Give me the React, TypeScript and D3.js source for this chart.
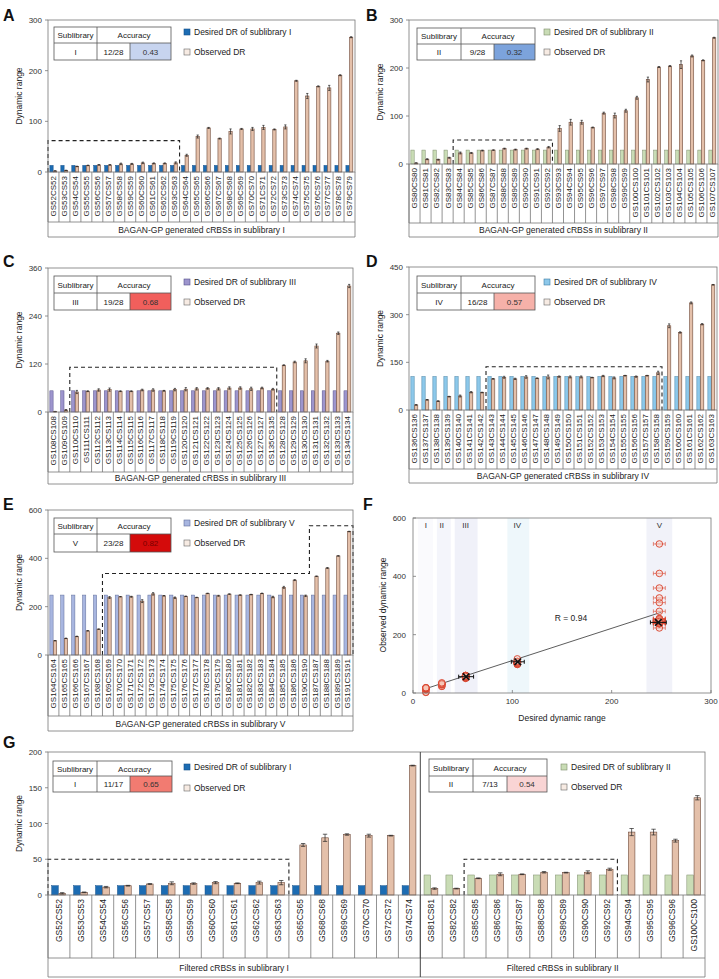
import React from 'react';
import * as d3 from 'd3';

const FONT = '"Liberation Sans", Arial, sans-serif';

// ---------- Data ----------
const labelsA = ['GS52CS52','GS53CS53','GS54CS54','GS55CS55','GS56CS56','GS57CS57','GS58CS58','GS59CS59','GS60CS60','GS61CS61','GS62CS62','GS63CS63','GS64CS64','GS65CS65','GS66CS66','GS67CS67','GS68CS68','GS69CS69','GS70CS70','GS71CS71','GS72CS72','GS73CS73','GS74CS74','GS75CS75','GS76CS76','GS77CS77','GS78CS78','GS79CS79'];
const obsA = [2,3,11,13,14,14,16,16,18,17,17,18,33,70,87,66,80,85,85,88,84,89,180,150,169,166,191,266];
const errA = [0.5,0.5,0.5,0.5,0.5,0.5,1.5,1,1.5,1,1,2,2,3,1,1,5,1,3,4,1,4,1,5,1,5,1,1];
const desiredA = 13;

const labelsB = ['GS80CS80','GS81CS81','GS82CS82','GS83CS83','GS84CS84','GS85CS85','GS86CS86','GS87CS87','GS88CS88','GS89CS89','GS90CS90','GS91CS91','GS92CS92','GS93CS93','GS94CS94','GS95CS95','GS96CS96','GS97CS97','GS98CS98','GS99CS99','GS100CS100','GS101CS101','GS102CS102','GS103CS103','GS104CS104','GS105CS105','GS106CS106','GS107CS107'];
const obsB = [2,10,9,13,23,23,28,29,32,30,32,31,35,74,87,87,76,106,101,111,138,176,202,204,207,225,216,263];
const errB = [0.5,1,1,1,2,1,1,0.5,1,1,1,1,1.5,6,6,4,1,2,5,3,3,5,1,1,8,2,1,1];
const desiredB = 29;

const labelsC = ['GS108CS108','GS109CS109','GS110CS110','GS111CS111','GS112CS112','GS113CS113','GS114CS114','GS115CS115','GS116CS116','GS117CS117','GS118CS118','GS119CS119','GS120CS120','GS121CS121','GS122CS122','GS123CS123','GS124CS124','GS125CS125','GS126CS126','GS127CS127','GS135CS135','GS128CS128','GS129CS129','GS130CS130','GS131CS131','GS132CS132','GS133CS133','GS134CS134'];
const obsC = [1,5,50,52,55,56,52,52,55,55,53,56,57,58,59,58,60,60,58,60,57,117,125,128,165,127,197,315];
const errC = [0.5,1,4,1,3,4,1,1,2,3,1,3,4,3,2,3,3,3,4,2,2,1,2,5,5,2,3,4];
const desiredC = 53;

const labelsD = ['GS136CS136','GS137CS137','GS138CS138','GS139CS139','GS140CS140','GS141CS141','GS142CS142','GS143CS143','GS144CS144','GS145CS145','GS146CS146','GS147CS147','GS148CS148','GS149CS149','GS150CS150','GS151CS151','GS152CS152','GS153CS153','GS154CS154','GS155CS155','GS156CS156','GS157CS157','GS158CS158','GS159CS159','GS160CS160','GS161CS161','GS162CS162','GS163CS163'];
const obsD = [16,32,28,42,44,56,55,98,103,98,104,100,104,105,104,104,102,107,101,108,105,108,117,265,244,337,270,394];
const errD = [1,1,1,1,3,2,1,1,3,2,4,1,6,2,3,3,1,2,3,1,2,1,5,6,2,3,2,1];
const desiredD = 105;

const labelsE = ['GS164CS164','GS165CS165','GS166CS166','GS167CS167','GS168CS168','GS169CS169','GS170CS170','GS171CS171','GS172CS172','GS173CS173','GS174CS174','GS175CS175','GS176CS176','GS177CS177','GS178CS178','GS179CS179','GS180CS180','GS181CS181','GS182CS182','GS183CS183','GS184CS184','GS185CS185','GS186CS186','GS190CS190','GS187CS187','GS188CS188','GS189CS189','GS191CS191'];
const obsE = [59,69,77,100,107,238,241,241,223,253,245,237,243,238,255,245,252,248,250,255,240,280,310,245,326,360,410,511];
const errE = [1,1,1,1,1,4,1,2,6,5,1,3,1,1,1,2,1,1,1,1,3,4,2,3,1,2,1,1];
const desiredE = 248;

const labelsG1 = ['GS52CS52','GS53CS53','GS54CS54','GS56CS56','GS57CS57','GS58CS58','GS59CS59','GS60CS60','GS61CS61','GS62CS62','GS63CS63','GS65CS65','GS68CS68','GS69CS69','GS70CS70','GS72CS72','GS74CS74'];
const obsG1 = [2.3,3.7,11,13,15.4,16.4,16,17.3,16.4,17.3,17.3,70,80,84.6,83,83,181];
const errG1 = [1,0.5,1,0.5,0.5,2,1,1.5,0.5,2,3,2,5,1,2,0.5,0.5];
const desiredG1 = 13;
const labelsG2 = ['GS81CS81','GS82CS82','GS85CS85','GS86CS86','GS87CS87','GS88CS88','GS89CS89','GS90CS90','GS92CS92','GS94CS94','GS95CS95','GS96CS96','GS100CS100'];
const obsG2 = [9,9,23.4,29,29,31.8,31.3,31.8,36,88,88,76,136];
const errG2 = [1,0.5,0.5,2,0.5,1,0.5,2,1.5,5,4,2,3];
const desiredG2 = 28;

// accurate ranges (dashed boxes)
const boxesA = [{ from: 0, to: 11, top: 62 }];
const boxesB = [{ from: 4, to: 12, top: 50 }];
const boxesC = [{ from: 2, to: 20, top: 112 }];
const boxesD = [{ from: 7, to: 22, top: 136 }];
const boxesE = [{ from: 5, to: 23, top: 337 }, { from: 24, to: 27, top: 535 }];
const boxesG = [{ from: 0, to: 10, top: 50 }, { from: 19, to: 25, top: 50 }];

const ticksA = [0, 100, 200, 300];
const ticksC = [0, 120, 240, 360];
const ticksD = [0, 150, 300, 450];
const ticksE = [0, 200, 400, 600];
const ticksG = [0, 50, 100, 150, 200];

// Panel F
const fDesired = [13, 29, 53, 105, 248];
const fNames = ['I', 'II', 'III', 'IV', 'V'];
const fBandLo = [5, 24, 42, 95, 235];
const fBandHi = [20, 38, 65, 117, 261];
const fBandCol = ['#fafafd', '#f4f5fb', '#f0f1f9', '#eef7fb', '#f1f2f9'];
const fBlackX = [53.5, 105.5, 247];
const fBlackY = [56, 107, 242];
const fBlackErr = [7.5, 6.5, 8];
const fFitLine = [[13, 15], [250, 277]];
const fTicksX = [0, 100, 200, 300];
const fTicksY = [0, 200, 400, 600];

const OBS_FILL = '#e4c0aa';
const OBS_STROKE = '#6e4a3a';

type Box = { from: number; to: number; top: number };
type Group = {
  n: number; desired: number; desFill: string; desStroke: string; rowTitle: string; desLegend: string;
  tx: number[]; ty: number[]; sub: string; frac: string; acc: string; accFill: string; accText: string;
  lx: number; ly1: number; ly2: number;
};
type PanelProps = {
  letter: string; lX: number; lY: number;
  x0: number; x1: number; yTop: number; yBot: number; cellBot: number; rowBot: number;
  yMax: number; ticks: number[]; labels: string[]; obs: number[]; err: number[];
  boxes: Box[]; groups: Group[]; titleX: number; labelFont: number;
};

function BarPanel(p: PanelProps) {
  const idx = p.labels.map((_, i) => i);
  const x = d3.scaleBand<number>().domain(idx).range([p.x0, p.x1]).padding(0);
  const bw = x.bandwidth();
  const y = d3.scaleLinear().domain([0, p.yMax]).range([p.yBot, p.yTop]);
  const groupOf: Group[] = [];
  p.groups.forEach(g => { for (let k = 0; k < g.n; k++) groupOf.push(g); });
  const starts: number[] = [];
  let acc = 0;
  p.groups.forEach(g => { starts.push(acc); acc += g.n; });

  // dashed outlines, merging adjacent boxes
  const paths: string[] = [];
  let i = 0;
  while (i < p.boxes.length) {
    let j = i;
    while (j + 1 < p.boxes.length && p.boxes[j + 1].from === p.boxes[j].to + 1) j++;
    let d = `M${x(p.boxes[i].from)},${p.yBot}`;
    for (let k = i; k <= j; k++) {
      const b = p.boxes[k];
      d += ` V${y(b.top)} H${(x(b.to) as number) + bw}`;
    }
    d += ` V${p.yBot}`;
    paths.push(d);
    i = j + 1;
  }

  const midY = (p.yTop + p.yBot) / 2;
  return (
    <g fontFamily={FONT}>
      <text x={p.lX} y={p.lY} fontSize={16} fontWeight="bold" fill="#111">{p.letter}</text>
      {idx.map(k => {
        const g = groupOf[k];
        const bx = x(k) as number;
        const w = bw * 0.3;
        return (
          <g key={k}>
            <rect x={bx + bw * 0.17} y={y(g.desired)} width={w} height={p.yBot - y(g.desired)} fill={g.desFill} stroke={g.desStroke} strokeWidth={0.5} />
            <rect x={bx + bw * 0.5} y={y(p.obs[k])} width={w} height={p.yBot - y(p.obs[k])} fill={OBS_FILL} stroke={OBS_STROKE} strokeWidth={0.6} />
            <g stroke="#222" strokeWidth={0.7}>
              <line x1={bx + bw * 0.65} x2={bx + bw * 0.65} y1={y(p.obs[k] - p.err[k])} y2={y(p.obs[k] + p.err[k])} />
              <line x1={bx + bw * 0.55} x2={bx + bw * 0.75} y1={y(p.obs[k] + p.err[k])} y2={y(p.obs[k] + p.err[k])} />
              <line x1={bx + bw * 0.55} x2={bx + bw * 0.75} y1={y(p.obs[k] - p.err[k])} y2={y(p.obs[k] - p.err[k])} />
            </g>
          </g>
        );
      })}
      {paths.map((d, k) => <path key={k} d={d} fill="none" stroke="#222" strokeWidth={1.1} strokeDasharray="4,3" />)}
      <rect x={p.x0} y={p.yTop} width={p.x1 - p.x0} height={p.yBot - p.yTop} fill="none" stroke="#777" strokeWidth={0.8} />
      {p.ticks.map(t => (
        <g key={t}>
          <line x1={p.x0 - 3} x2={p.x0} y1={y(t)} y2={y(t)} stroke="#777" strokeWidth={0.8} />
          <text x={p.x0 - 6} y={y(t) + 3} fontSize={8} textAnchor="end" fill="#333">{t}</text>
        </g>
      ))}
      <text transform={`translate(${p.titleX},${midY}) rotate(-90)`} fontSize={8.5} textAnchor="middle" fill="#222">Dynamic range</text>
      <g stroke="#777" strokeWidth={0.8}>
        {idx.map(k => <line key={k} x1={x(k)} x2={x(k)} y1={p.yBot} y2={p.cellBot} />)}
        <line x1={p.x1} x2={p.x1} y1={p.yBot} y2={p.rowBot} />
        <line x1={p.x0} x2={p.x0} y1={p.yBot} y2={p.rowBot} />
        <line x1={p.x0} x2={p.x1} y1={p.cellBot} y2={p.cellBot} />
        <line x1={p.x0} x2={p.x1} y1={p.rowBot} y2={p.rowBot} />
        {starts.slice(1).map(s => <line key={s} x1={x(s)} x2={x(s)} y1={p.yTop} y2={p.rowBot} strokeWidth={1} stroke="#444" />)}
      </g>
      {idx.map(k => (
        <text key={k} transform={`translate(${(x(k) as number) + bw / 2 + p.labelFont * 0.36},${p.yBot + 4}) rotate(-90)`} fontSize={p.labelFont} textAnchor="end" fill="#222">{p.labels[k]}</text>
      ))}
      {p.groups.map((g, gi) => {
        const sx = x(starts[gi]) as number;
        const ex = gi + 1 < p.groups.length ? (x(starts[gi + 1]) as number) : p.x1;
        const [a, b, c, e] = g.tx;
        const [r0, r1, r2] = g.ty;
        return (
          <g key={gi}>
            <text x={(sx + ex) / 2} y={(p.cellBot + p.rowBot) / 2 + 3} fontSize={8.5} textAnchor="middle" fill="#222">{g.rowTitle}</text>
            <rect x={a} y={r0} width={e - a} height={r2 - r0} fill="#fff" />
            <rect x={c} y={r1} width={e - c} height={r2 - r1} fill={g.accFill} />
            <g stroke="#555" strokeWidth={0.8} fill="none">
              <rect x={a} y={r0} width={e - a} height={r2 - r0} />
              <line x1={a} x2={e} y1={r1} y2={r1} />
              <line x1={b} x2={b} y1={r0} y2={r2} />
              <line x1={c} x2={c} y1={r1} y2={r2} />
            </g>
            <g fontSize={8} textAnchor="middle" fill="#222">
              <text x={(a + b) / 2} y={(r0 + r1) / 2 + 3}>Sublibrary</text>
              <text x={(b + e) / 2} y={(r0 + r1) / 2 + 3}>Accuracy</text>
              <text x={(a + b) / 2} y={(r1 + r2) / 2 + 3}>{g.sub}</text>
              <text x={(b + c) / 2} y={(r1 + r2) / 2 + 3}>{g.frac}</text>
              <text x={(c + e) / 2} y={(r1 + r2) / 2 + 3} fill={g.accText}>{g.acc}</text>
            </g>
            <rect x={g.lx - 3} y={g.ly1 - 3} width={6} height={6} fill={g.desFill} stroke={g.desStroke} strokeWidth={0.6} />
            <text x={g.lx + 7} y={g.ly1 + 3} fontSize={8.5} fill="#222">{g.desLegend}</text>
            <rect x={g.lx - 3} y={g.ly2 - 3} width={6} height={6} fill="#f7ebe3" stroke="#666" strokeWidth={0.6} />
            <text x={g.lx + 7} y={g.ly2 + 3} fontSize={8.5} fill="#222">Observed DR</text>
          </g>
        );
      })}
    </g>
  );
}

function ScatterF() {
  const x = d3.scaleLinear().domain([0, 300]).range([413, 711]);
  const y = d3.scaleLinear().domain([0, 600]).range([693, 518]);
  const clusters = [
    obsA.slice(boxesA[0].from, boxesA[0].to + 1),
    obsB.slice(boxesB[0].from, boxesB[0].to + 1),
    obsC.slice(boxesC[0].from, boxesC[0].to + 1),
    obsD.slice(boxesD[0].from, boxesD[0].to + 1),
    obsE.slice(boxesE[0].from, boxesE[1].to + 1),
  ];
  const line = d3.line<number[]>().x(d => x(d[0])).y(d => y(d[1]));
  const times = d3.symbol().type(d3.symbolTimes).size(30)();
  return (
    <g fontFamily={FONT}>
      <text x={363} y={510} fontSize={16} fontWeight="bold" fill="#111">F</text>
      {fBandLo.map((lo, k) => (
        <rect key={k} x={x(lo)} y={y(600)} width={x(fBandHi[k]) - x(lo)} height={y(0) - y(600)} fill={fBandCol[k]} />
      ))}
      {fNames.map((n, k) => <text key={n} x={x(fDesired[k])} y={y(567)} fontSize={8} textAnchor="middle" fill="#333">{n}</text>)}
      <path d={line(fFitLine) as string} stroke="#333" strokeWidth={0.8} fill="none" />
      {clusters.map((c, k) => c.map((v, m) => (
        <g key={`${k}-${m}`}>
          {k === 4 && (
            <g stroke="#d9442f" strokeWidth={0.6}>
              <line x1={x(fDesired[k] - 6)} x2={x(fDesired[k] + 6)} y1={y(v)} y2={y(v)} />
              <line x1={x(fDesired[k] - 6)} x2={x(fDesired[k] - 6)} y1={y(v) - 2} y2={y(v) + 2} />
              <line x1={x(fDesired[k] + 6)} x2={x(fDesired[k] + 6)} y1={y(v) - 2} y2={y(v) + 2} />
            </g>
          )}
          <circle cx={x(fDesired[k])} cy={y(v)} r={3.3} fill="rgba(248,200,185,0.4)" stroke="#d9442f" strokeWidth={0.9} />
        </g>
      )))}
      {fBlackX.map((bx, k) => (
        <g key={k} stroke="#111" strokeWidth={1}>
          <line x1={x(bx - fBlackErr[k])} x2={x(bx + fBlackErr[k])} y1={y(fBlackY[k])} y2={y(fBlackY[k])} />
          <line x1={x(bx - fBlackErr[k])} x2={x(bx - fBlackErr[k])} y1={y(fBlackY[k]) - 2} y2={y(fBlackY[k]) + 2} />
          <line x1={x(bx + fBlackErr[k])} x2={x(bx + fBlackErr[k])} y1={y(fBlackY[k]) - 2} y2={y(fBlackY[k]) + 2} />
          <path d={times} transform={`translate(${x(bx)},${y(fBlackY[k])})`} fill="#111" strokeWidth={1.6} />
        </g>
      ))}
      <text x={x(159)} y={y(247)} fontSize={8.5} textAnchor="middle" fill="#222">R = 0.94</text>
      <rect x={413} y={518} width={298} height={175} fill="none" stroke="#777" strokeWidth={0.8} />
      {fTicksY.map(t => (
        <g key={t}>
          <line x1={413} x2={416} y1={y(t)} y2={y(t)} stroke="#777" strokeWidth={0.8} />
          <text x={406} y={y(t) + 3} fontSize={8} textAnchor="end" fill="#333">{t}</text>
        </g>
      ))}
      {fTicksX.map(t => (
        <g key={t}>
          <line x1={x(t)} x2={x(t)} y1={693} y2={690} stroke="#777" strokeWidth={0.8} />
          <text x={x(t)} y={704} fontSize={8} textAnchor="middle" fill="#333">{t}</text>
        </g>
      ))}
      <text x={562} y={721} fontSize={8.5} textAnchor="middle" fill="#222">Desired dynamic range</text>
      <text transform={`translate(386,605) rotate(-90)`} fontSize={8.5} textAnchor="middle" fill="#222">Observed dynamic range</text>
    </g>
  );
}

const baseTableL = [54, 97, 130, 171];
const baseTableR = [417, 461, 494, 535];

export default function App() {
  return (
    <div style={{ position: 'absolute', left: 0, top: 0 }}>
      <svg width={719} height={979} style={{ display: 'block', background: '#fff' }}>
        <BarPanel letter="A" lX={3} lY={21} x0={48} x1={355} yTop={20} yBot={172} cellBot={222} rowBot={237}
          yMax={300} ticks={ticksA} labels={labelsA} obs={obsA} err={errA} boxes={boxesA} titleX={22} labelFont={8}
          groups={[{ n: 28, desired: desiredA, desFill: '#1c6cb3', desStroke: '#15508a', rowTitle: 'BAGAN-GP generated cRBSs in sublibrary I', desLegend: 'Desired DR of sublibrary I',
            tx: baseTableL, ty: [27, 43, 60], sub: 'I', frac: '12/28', acc: '0.43', accFill: '#c7d4ef', accText: '#333', lx: 187, ly1: 32, ly2: 52 }]} />
        <BarPanel letter="B" lX={366} lY={21} x0={409} x1={718} yTop={20} yBot={164} cellBot={223} rowBot={237}
          yMax={300} ticks={ticksA} labels={labelsB} obs={obsB} err={errB} boxes={boxesB} titleX={383} labelFont={8}
          groups={[{ n: 28, desired: desiredB, desFill: '#c9dcb5', desStroke: '#7d8c6c', rowTitle: 'BAGAN-GP generated cRBSs in sublibrary II', desLegend: 'Desired DR of sublibrary II',
            tx: baseTableR, ty: [28, 44, 60], sub: 'II', frac: '9/28', acc: '0.32', accFill: '#7ca3dc', accText: '#333', lx: 547, ly1: 32, ly2: 52 }]} />
        <BarPanel letter="C" lX={3} lY={267} x0={48} x1={353} yTop={268} yBot={412} cellBot={472} rowBot={484}
          yMax={360} ticks={ticksC} labels={labelsC} obs={obsC} err={errC} boxes={boxesC} titleX={22} labelFont={8}
          groups={[{ n: 28, desired: desiredC, desFill: '#9d95cd', desStroke: '#55508a', rowTitle: 'BAGAN-GP generated cRBSs in sublibrary III', desLegend: 'Desired DR of sublibrary III',
            tx: baseTableL, ty: [276, 293, 310], sub: 'III', frac: '19/28', acc: '0.68', accFill: '#f15f5c', accText: '#333', lx: 187, ly1: 282, ly2: 302 }]} />
        <BarPanel letter="D" lX={366} lY={267} x0={409} x1={717} yTop={267} yBot={410} cellBot={469} rowBot={483}
          yMax={450} ticks={ticksD} labels={labelsD} obs={obsD} err={errD} boxes={boxesD} titleX={383} labelFont={8}
          groups={[{ n: 28, desired: desiredD, desFill: '#8dc8ea', desStroke: '#3f7ea3', rowTitle: 'BAGAN-GP generated cRBSs in sublibrary IV', desLegend: 'Desired DR of sublibrary IV',
            tx: baseTableR, ty: [276, 293, 310], sub: 'IV', frac: '16/28', acc: '0.57', accFill: '#f6b1a9', accText: '#333', lx: 547, ly1: 282, ly2: 302 }]} />
        <BarPanel letter="E" lX={3} lY={510} x0={48} x1={353} yTop={510} yBot={655} cellBot={716} rowBot={731}
          yMax={600} ticks={ticksE} labels={labelsE} obs={obsE} err={errE} boxes={boxesE} titleX={22} labelFont={8}
          groups={[{ n: 28, desired: desiredE, desFill: '#a8b6e0', desStroke: '#5f6d99', rowTitle: 'BAGAN-GP generated cRBSs in sublibrary V', desLegend: 'Desired DR of sublibrary V',
            tx: baseTableL, ty: [518, 534, 552], sub: 'V', frac: '23/28', acc: '0.82', accFill: '#d40b0b', accText: '#7a0000', lx: 187, ly1: 523, ly2: 543 }]} />
        <ScatterF />
        <BarPanel letter="G" lX={3} lY={748} x0={48} x1={705} yTop={752} yBot={895} cellBot={958} rowBot={977}
          yMax={200} ticks={ticksG} labels={[...labelsG1, ...labelsG2]} obs={[...obsG1, ...obsG2]} err={[...errG1, ...errG2]} boxes={boxesG} titleX={22} labelFont={8.5}
          groups={[
            { n: 17, desired: desiredG1, desFill: '#1c6cb3', desStroke: '#15508a', rowTitle: 'Filtered cRBSs in sublibrary I', desLegend: 'Desired DR of sublibrary I',
              tx: [53, 97, 130, 172], ty: [761, 776, 792], sub: 'I', frac: '11/17', acc: '0.65', accFill: '#f27b71', accText: '#333', lx: 187, ly1: 767, ly2: 788 },
            { n: 13, desired: desiredG2, desFill: '#c9dcb5', desStroke: '#7d8c6c', rowTitle: 'Filtered cRBSs in sublibrary II', desLegend: 'Desired DR of sublibrary II',
              tx: [429, 473, 507, 547], ty: [759, 776, 792], sub: 'II', frac: '7/13', acc: '0.54', accFill: '#f9d4d4', accText: '#333', lx: 564, ly1: 767, ly2: 787 },
          ]} />
      </svg>
    </div>
  );
}
